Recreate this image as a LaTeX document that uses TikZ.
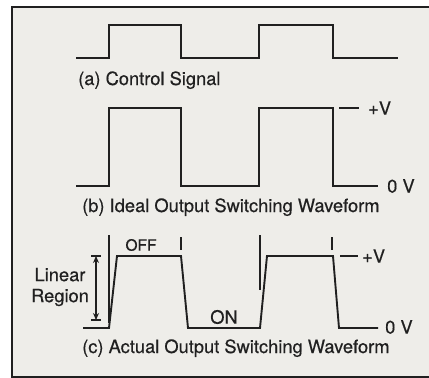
\documentclass[tikz,border=0pt]{standalone}
\usepackage{fontspec}
\setmainfont{TeX Gyre Heros}
\newfontfamily\lblfont[FakeBold=0.4]{TeX Gyre Heros}
\usetikzlibrary{arrows.meta}
\definecolor{paper}{RGB}{238,237,233}
\definecolor{ink}{RGB}{32,32,32}

\begin{document}
\begin{tikzpicture}[x=1pt, y=-1pt,
		wave/.style={ink, line width=1.9pt, line join=miter},
		edgemark/.style={ink, line width=1.9pt},
		vdash/.style={ink, line width=1.1pt},
		lbl/.style={font=\fontsize{18.3}{21}\lblfont, text=ink, inner sep=0pt},
		small/.style={font=\fontsize{15.5}{18}\lblfont, text=ink, inner sep=0pt}]
			\useasboundingbox (0,0) rectangle (429,378);
			\fill[paper] (12,7) rectangle (429,377);
			\draw[ink, line width=1.3pt] (429,7) -- (12,7) -- (12,377) -- (429,377);
			% (a) control signal
			\draw[wave] (76,58) -- (109,58) -- (109,25) -- (181,25) -- (181,58)
				-- (259,58) -- (259,25) -- (333,25) -- (333,58) -- (398,58);
			\node[lbl, anchor=base west] (cap-a) at (78,85) {(a) Control Signal};
			% (b) ideal output
			\draw[wave] (76,186) -- (109,186) -- (109,108) -- (181,108) -- (181,186)
				-- (259,186) -- (259,108) -- (333,108) -- (333,186) -- (378,186);
			\node[lbl, anchor=base west] (cap-b) at (82,212) {(b) Ideal Output Switching Waveform};
			\node[lbl, anchor=west] (pv-b) at (368,108) {+V};
			\node[lbl, anchor=west] (zv-b) at (387,186) {0 V};
			\coordinate (b-top) at (339,108);
			\draw[vdash] (b-top) -- ([xshift=-9pt]pv-b.west);
			% (c) actual output
			\draw[wave] (83,328) -- (109,328) -- (117,256) -- (181,256) -- (188,328)
				-- (260,328) -- (267,256) -- (333,256) -- (339,328) -- (378,328);
			\foreach \x/\ya/\yb in {109/235/323, 181/237/250, 260/235/290, 332/237/250}{
				\draw[edgemark] (\x,\ya) -- (\x,\yb);
			}
			\node[lbl, anchor=base west] (cap-c) at (82,353) {(c) Actual Output Switching Waveform};
			\node[lbl, anchor=west] (pv-c) at (362,256) {+V};
			\node[lbl, anchor=west] (zv-c) at (385,327) {0 V};
			\coordinate (c-top) at (340,256);
			\draw[vdash] (c-top) -- ([xshift=-4pt]pv-c.west);
			\node[small] (off) at (141,245) {OFF};
			\node[lbl] (on) at (224,317) {ON};
			\node[lbl, align=center] (linreg) at (60,287) {Linear\\Region};
			% linear region span
			\coordinate (lr-top) at (96,256);
			\coordinate (lr-bot) at (96,320);
			\draw[ink, line width=1.2pt, {Stealth[length=7pt,width=6pt]}-{Stealth[length=7pt,width=6pt]}] (lr-top) -- (lr-bot);
			\draw[ink, line width=1.2pt] ([xshift=-5pt]lr-top) -- ([xshift=5pt]lr-top);
			\draw[ink, line width=1.2pt] ([xshift=-5pt]lr-bot) -- ([xshift=5pt]lr-bot);
		\end{tikzpicture}
\end{document}
